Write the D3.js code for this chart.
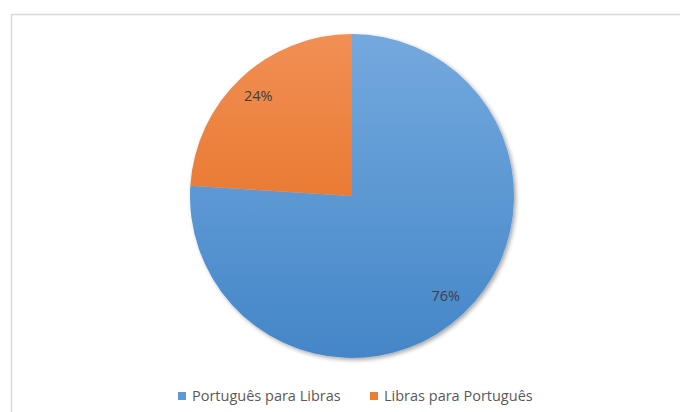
<!DOCTYPE html>
<html><head><meta charset="utf-8">
<script src="https://cdn.jsdelivr.net/npm/d3@7"></script>
<style>body{margin:0;background:#fff;}svg{display:block;}</style>
</head><body>
<svg id="c" width="680" height="412"></svg>
<script>
const categories = ["Português para Libras", "Libras para Português"];
const values = [76, 24];
const labels = ["76%", "24%"];

const svg = d3.select("#c");
const cx = 352, cy = 196, R = 162;
const font = "'Open Sans', 'Liberation Sans', sans-serif";

svg.append("rect").attr("x", 11.5).attr("y", 14.5).attr("width", 700).attr("height", 420)
  .attr("fill", "#fff").attr("stroke", "#d9d9d9").attr("stroke-width", 1.5);

const defs = svg.append("defs");
const grads = [["#74a9de", "#4486c8"], ["#f18f54", "#e26814"]];
grads.forEach((g, i) => {
  const lg = defs.append("linearGradient").attr("id", "g" + i)
    .attr("gradientUnits", "userSpaceOnUse")
    .attr("x1", 0).attr("y1", -R).attr("x2", 0).attr("y2", R);
  lg.append("stop").attr("offset", "0%").attr("stop-color", g[0]);
  lg.append("stop").attr("offset", "100%").attr("stop-color", g[1]);
});
const f = defs.append("filter").attr("id", "sh").attr("x", "-20%").attr("y", "-20%").attr("width", "140%").attr("height", "140%");
f.append("feDropShadow").attr("dx", 2).attr("dy", 2).attr("stdDeviation", 2).attr("flood-color", "#000").attr("flood-opacity", 0.35);

const color = d3.scaleOrdinal().domain(categories).range(["url(#g0)", "url(#g1)"]);
const pie = d3.pie().sort(null).value(d => d.v);
const data = categories.map((c, i) => ({c, v: values[i], l: labels[i]}));
const arcs = pie(data);
const arc = d3.arc().innerRadius(0).outerRadius(R);
const labelArc = d3.arc().innerRadius(R * 0.845).outerRadius(R * 0.845);

const g = svg.append("g").attr("transform", `translate(${cx},${cy})`);
g.append("g").attr("filter", "url(#sh)").selectAll("path").data(arcs).join("path")
  .attr("d", arc).attr("fill", d => color(d.data.c));

g.selectAll("text").data(arcs).join("text")
  .attr("transform", d => `translate(${labelArc.centroid(d)})`)
  .attr("text-anchor", "middle").attr("dy", "0.35em")
  .attr("font-family", font).attr("font-size", 14.5).attr("fill", "#404040")
  .text(d => d.data.l);

// legend
const legend = svg.append("g").attr("transform", "translate(0,396)");
const lx = [178, 370];
const leg = legend.selectAll("g").data(categories).join("g")
  .attr("transform", (d, i) => `translate(${lx[i]},0)`);
leg.append("rect").attr("x", 0).attr("y", -4).attr("width", 8).attr("height", 8)
  .attr("fill", (d, i) => ["#5b9bd5", "#ed7d31"][i]);
leg.append("text").attr("x", 14).attr("dy", "0.35em")
  .attr("font-family", font).attr("font-size", 14.5).attr("fill", "#595959")
  .text(d => d);
</script>
</body></html>
